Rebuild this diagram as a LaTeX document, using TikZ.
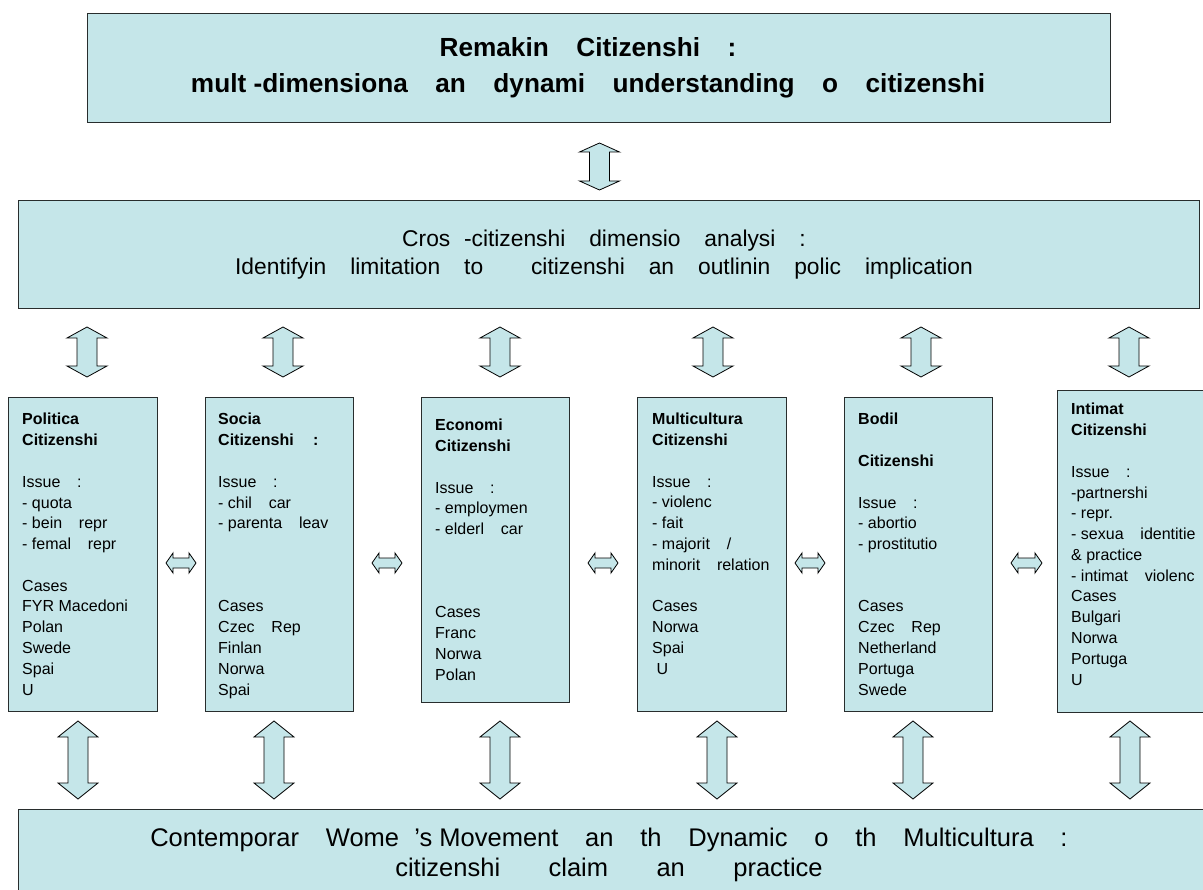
\documentclass[tikz,border=0pt]{standalone}
\usepackage{fontspec}
\setmainfont{Liberation Sans}
\usetikzlibrary{calc}
\definecolor{boxfill}{RGB}{197,230,233}
\definecolor{edgecol}{RGB}{40,45,45}
\newcommand\G{\hspace*{1.05em}}
\newcommand\GG{\hspace*{1.9em}}
\newcommand\vdarrow[5]{%
  \draw[blockarrow] let \p1=(#1), \p2=(#2) in
   (\x1,\y1) -- (\x1+#3pt,\y1-#4pt) -- (\x1+#5pt,\y1-#4pt) -- (\x1+#5pt,\y2+#4pt)
   -- (\x1+#3pt,\y2+#4pt) -- (\x1,\y2) -- (\x1-#3pt,\y2+#4pt) -- (\x1-#5pt,\y2+#4pt)
   -- (\x1-#5pt,\y1-#4pt) -- (\x1-#3pt,\y1-#4pt) -- cycle;}
\newcommand\hdarrow[5]{%
  \draw[blockarrow] let \p1=(#1), \p2=(#2) in
   (\x1,\y1) -- (\x1+#4pt,\y1+#3pt) -- (\x1+#4pt,\y1+#5pt) -- (\x2-#4pt,\y1+#5pt)
   -- (\x2-#4pt,\y1+#3pt) -- (\x2,\y1) -- (\x2-#4pt,\y1-#3pt) -- (\x2-#4pt,\y1-#5pt)
   -- (\x1+#4pt,\y1-#5pt) -- (\x1+#4pt,\y1-#3pt) -- cycle;}
\begin{document}
\begin{tikzpicture}[x=1pt,y=-1pt,
  bigbox/.style={draw=edgecol,line width=1pt,fill=boxfill,anchor=north west,inner sep=0pt},
  colbox/.style={draw=edgecol,line width=1pt,fill=boxfill,anchor=north west,inner sep=0pt},
  blockarrow/.style={draw=black,line width=0.8pt,fill=boxfill,line join=miter},
  coltext/.style={anchor=base west,align=left,inner sep=0pt,font=\fontsize{16}{20.77}\selectfont},
  titletext/.style={align=center,inner sep=0pt,font=\fontsize{26.2}{36}\selectfont\bfseries},
  midtext/.style={align=center,inner sep=0pt,font=\fontsize{22.8}{28}\selectfont},
  bottext/.style={align=center,inner sep=0pt,font=\fontsize{25.5}{30}\selectfont}]
\useasboundingbox (0,0) rectangle (1203,890);
\begin{scope}
\clip (0,0) rectangle (1203,890);
% boxes
\node[bigbox,minimum width=1023pt,minimum height=109pt] (top) at (87,13) {};
\node[bigbox,minimum width=1181pt,minimum height=108pt] (sec) at (18,200) {};
\node[colbox,minimum width=149pt,minimum height=314pt] (b1) at (8,397) {};
\node[colbox,minimum width=148pt,minimum height=314pt] (b2) at (205,397) {};
\node[colbox,minimum width=148pt,minimum height=305pt] (b3) at (421,397) {};
\node[colbox,minimum width=149pt,minimum height=314pt] (b4) at (637,397) {};
\node[colbox,minimum width=148pt,minimum height=314pt] (b5) at (844,397) {};
\node[colbox,minimum width=160pt,minimum height=322pt] (b6) at (1057,390) {};
\node[bigbox,minimum width=1200pt,minimum height=100pt] (bot) at (18,809) {};
% texts
\node[titletext] (toptxt) at (588,68) {Remakin\G Citizenshi\G :\\mult -dimensiona\G an\G dynami\G understanding\G o\G citizenshi};
\node[midtext] (sectxt) at (604,255) {Cros\hspace*{0.6em}-citizenshi\G dimensio\G analysi\G :\\Identifyin\G limitation\G to\G\G citizenshi\G an\G outlinin\G polic\G implication};
\node[bottext] (bottxt) at (609,855) {Contemporar\G Wome\hspace*{0.6em}'s Movement\G an\G th\G Dynamic\G o\G th\G Multicultura\G :\\citizenshi\GG claim\GG an\GG practice};
\node[coltext] (t1) at (22,695) {\textbf{Politica}\\\textbf{Citizenshi}\\\mbox{}\\Issue\G:\\- quota\\- bein\G repr\\- femal\G repr\\\mbox{}\\Cases\\FYR Macedoni\\Polan\\Swede\\Spai\\U};
\node[coltext] (t2) at (218,695) {\textbf{Socia}\\\textbf{Citizenshi\G\,:}\\\mbox{}\\Issue\G:\\- chil\G car\\- parenta\G leav\\\mbox{}\\\mbox{}\\\mbox{}\\Cases\\Czec\G Rep\\Finlan\\Norwa\\Spai};
\node[coltext] (t3) at (435,680) {\textbf{Economi}\\\textbf{Citizenshi}\\\mbox{}\\Issue\G:\\- employmen\\- elderl\G car\\\mbox{}\\\mbox{}\\\mbox{}\\Cases\\Franc\\Norwa\\Polan};
\node[coltext] (t4) at (652,674) {\textbf{Multicultura}\\\textbf{Citizenshi}\\\mbox{}\\Issue\G:\\- violenc\\- fait\\- majorit\G /\\minorit\G relation\\\mbox{}\\Cases\\Norwa\\Spai\\\ U};
\node[coltext] (t5) at (858,695) {\textbf{Bodil}\\\mbox{}\\\textbf{Citizenshi}\\\mbox{}\\Issue\G:\\- abortio\\- prostitutio\\\mbox{}\\\mbox{}\\Cases\\Czec\G Rep\\Netherland\\Portuga\\Swede};
\node[coltext] (t6) at (1071,685) {\textbf{Intimat}\\\textbf{Citizenshi}\\\mbox{}\\Issue\G:\\-partnershi\\- repr.\\- sexua\G identitie\\\& practice\\- intimat\G violenc\\Cases\\Bulgari\\Norwa\\Portuga\\U};
% arrow end points
\coordinate (a0t) at ($(top.south)+(0.5,20)$);
\coordinate (a0b) at ($(sec.north)+(0.5,-10)$);
\foreach \i/\x in {1/87,2/283,3/500,4/713,5/921,6/1129}{
  \coordinate (u\i t) at (\x,327);
  \coordinate (u\i b) at (\x,377);
}
\foreach \i/\x in {1/78,2/274,3/500,4/717,5/913,6/1130}{
  \coordinate (d\i t) at (\x,721);
  \coordinate (d\i b) at (\x,799);
}
\foreach \i/\xa/\xb in {1/166/196,2/372/402,3/588/618,4/795/825,5/1011/1042}{
  \coordinate (h\i l) at (\xa,563);
  \coordinate (h\i r) at (\xb,563);
}
% arrows
\vdarrow{a0t}{a0b}{20}{9}{10}
\foreach \i in {1,...,6}{\vdarrow{u\i t}{u\i b}{20}{11}{10}}
\foreach \i in {1,...,6}{\vdarrow{d\i t}{d\i b}{20}{16}{10}}
\foreach \i in {1,...,5}{\hdarrow{h\i l}{h\i r}{10}{7}{5}}
\end{scope}
\end{tikzpicture}
\end{document}
